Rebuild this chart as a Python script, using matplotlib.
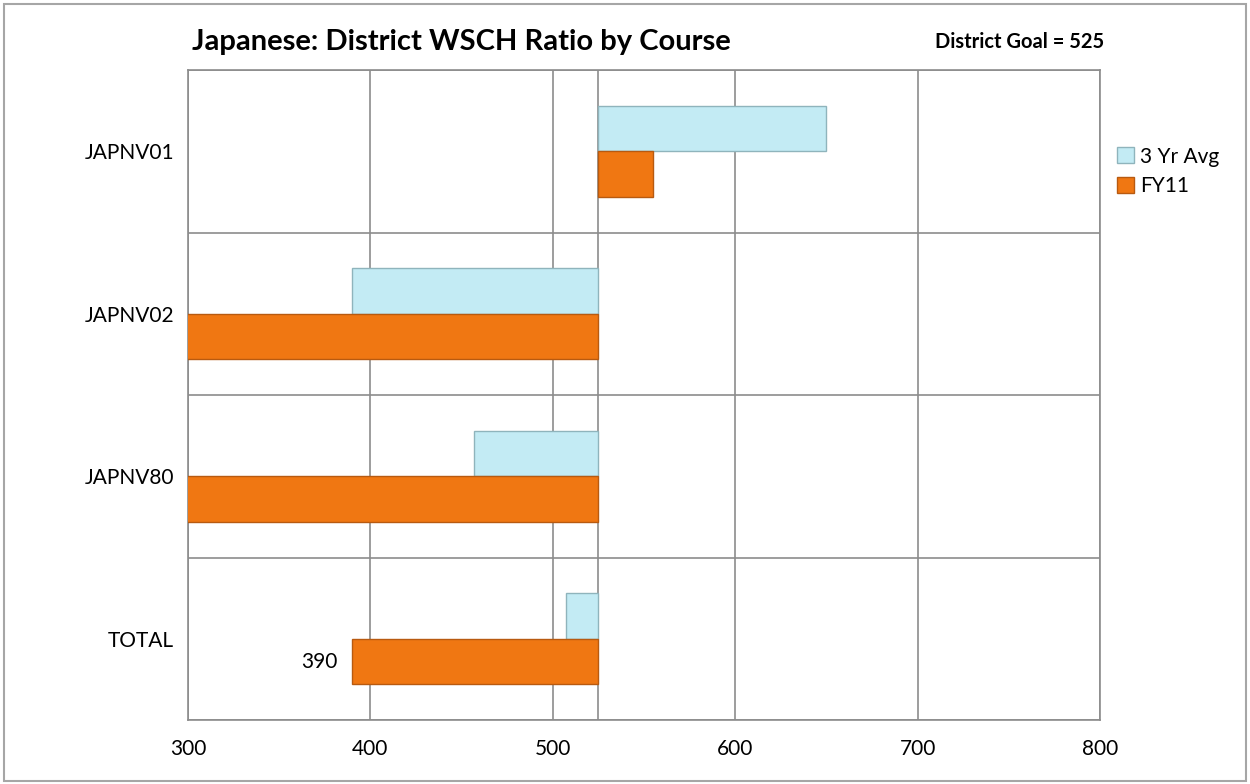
import numpy as np
import matplotlib.pyplot as plt
from matplotlib.patches import Rectangle

plt.rcParams['font.family'] = ['Lato', 'DejaVu Sans']

# Data (bars drawn from the district goal)
courses = ['JAPNV01', 'JAPNV02', 'JAPNV80', 'TOTAL']
avg3 = [650, 390, 457, 507]
fy11 = [555, 250, 260, 390]
goal = 525

fig = plt.figure(figsize=(12.5, 7.84), dpi=100)
ax = fig.add_axes([0.1504, 0.0816, 0.7296, 0.8291])

y = np.arange(len(courses))
h = 0.28
ax.barh(y - h / 2, np.array(avg3) - goal, height=h, left=goal,
        color='#C3EBF4', edgecolor='#8FB4BC', linewidth=1.0, label='3 Yr Avg', zorder=3)
ax.barh(y + h / 2, np.array(fy11) - goal, height=h, left=goal,
        color='#F07712', edgecolor='#B85A10', linewidth=1.0, label='FY11', zorder=3)

# data label on TOTAL FY11
ax.text(fy11[3] - 8, y[3] + h / 2, str(fy11[3]), ha='right', va='center', fontsize=15)

ax.set_xlim(300, 800)
ax.set_ylim(len(courses) - 0.5, -0.5)
ax.set_xticks([300, 400, 500, 600, 700, 800])
ax.set_yticks(y)
ax.set_yticklabels(courses)
ax.set_yticks(np.arange(len(courses) + 1) - 0.5, minor=True)
ax.tick_params(axis='both', length=0, labelsize=15, pad=10)
ax.tick_params(axis='x', pad=14)
ax.tick_params(axis='y', which='minor', length=0)
ax.grid(True, axis='x', color='#8C8C8C', linewidth=1.2, zorder=1)
ax.grid(True, axis='y', which='minor', color='#8C8C8C', linewidth=1.2, zorder=1)
ax.axvline(goal, color='#8C8C8C', linewidth=1.2, zorder=1)
for s in ax.spines.values():
    s.set_color('#8C8C8C')
    s.set_linewidth(1.2)

ax.legend(loc='upper left', bbox_to_anchor=(1.01, 0.895), frameon=False,
          fontsize=15, handlelength=0.8, handleheight=0.8, handletextpad=0.3,
          labelspacing=0.45, borderaxespad=0)

fig.text(0.154, 0.946, 'Japanese: District WSCH Ratio by Course', fontsize=21,
         fontweight='bold', ha='left', va='center')
fig.text(0.748, 0.946, 'District Goal = 525', fontsize=14.5, fontweight='bold',
         ha='left', va='center')

fig.patches.append(Rectangle((0.003, 0.004), 0.994, 0.991, transform=fig.transFigure,
                             fill=False, edgecolor='#A6A6A6', linewidth=1.5))

fig.savefig('out.png', dpi=100)
